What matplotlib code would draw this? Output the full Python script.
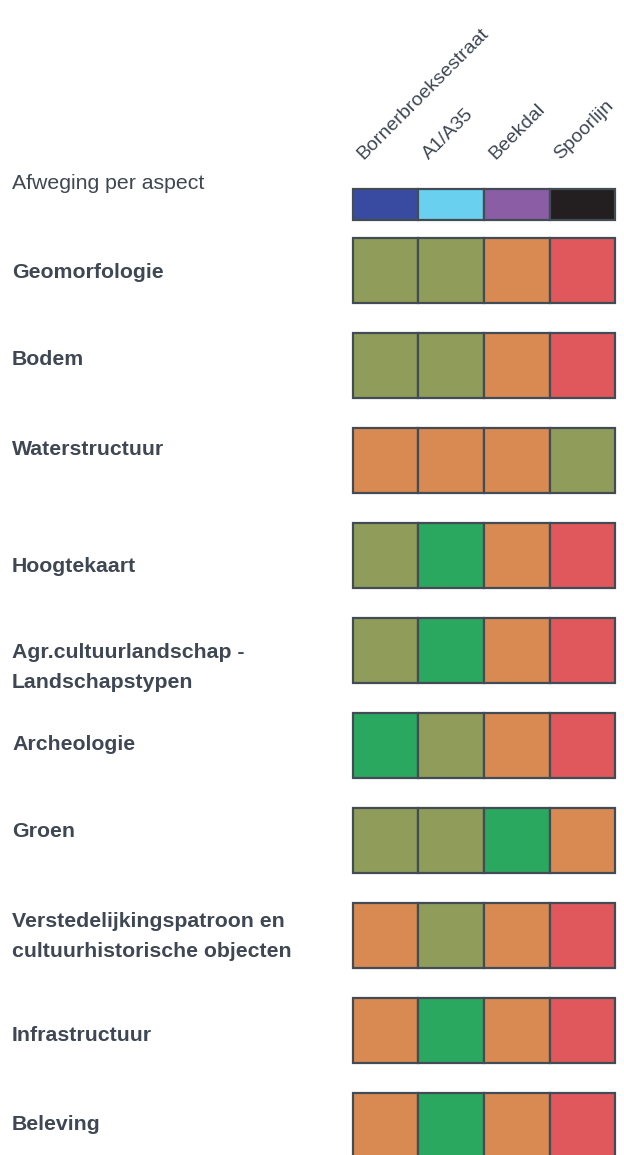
import matplotlib.pyplot as plt
import numpy as np

plt.rcParams['font.family'] = ['Liberation Sans', 'DejaVu Sans']

# kolommen (alternatieven) en hun kleur in de kopregel
alternatieven = ['Bornerbroeksestraat', 'A1/A35', 'Beekdal', 'Spoorlijn']
kop_kleuren = ['#394BA0', '#69D0EF', '#8B5DA5', '#231F20']

# aspecten (rijen)
aspecten = ['Geomorfologie', 'Bodem', 'Waterstructuur', 'Hoogtekaart',
            'Agr.cultuurlandschap -\nLandschapstypen', 'Archeologie', 'Groen',
            'Verstedelijkingspatroon en\ncultuurhistorische objecten',
            'Infrastructuur', 'Beleving']

# score per aspect: 0 = groen, 1 = olijf, 2 = oranje, 3 = rood
scores = [
    [1, 1, 2, 3],
    [1, 1, 2, 3],
    [2, 2, 2, 1],
    [1, 0, 2, 3],
    [1, 0, 2, 3],
    [0, 1, 2, 3],
    [1, 1, 0, 2],
    [2, 1, 2, 3],
    [2, 0, 2, 3],
    [2, 0, 2, 3],
]
score_kleuren = ['#2AA85F', '#8F9C5A', '#D88A52', '#E0585B']

tekst = '#3E4753'
rand = '#434B55'
fs = 15.3

fig = plt.figure(figsize=(6.24, 11.55), dpi=100)
ax = fig.add_axes([0, 0, 1, 1])
ax.set_xlim(0, 624)
ax.set_ylim(1155, 0)
ax.axis('off')

x0, w = 352.7, 65.6          # eerste kolom, breedte
xc = x0 + w / 2 + w * np.arange(len(alternatieven))

# kopregel
ax.bar(xc, 31, bottom=189, width=w, color=kop_kleuren, edgecolor=rand, linewidth=1.6)
for i, naam in enumerate(alternatieven):
    ax.text(x0 + i * w + 11, 160, naam, rotation=45, rotation_mode='anchor',
            ha='left', va='baseline', fontsize=14, color=tekst)
ax.text(12, 189, 'Afweging per aspect', fontsize=fs, color=tekst, va='baseline')

# rijen
rij_top = 238 + 95 * np.arange(len(aspecten))
baselines = [278, 365, 455, 572, 658, 750, 837, 927, 1041, 1130]
for r, (naam, s) in enumerate(zip(aspecten, scores)):
    ax.bar(xc, 65, bottom=rij_top[r], width=w,
           color=[score_kleuren[v] for v in s], edgecolor=rand, linewidth=1.6)
    for k, regel in enumerate(naam.split('\n')):
        ax.text(12, baselines[r] + 30 * k, regel, fontsize=fs, fontweight='bold',
                color=tekst, va='baseline')

fig.savefig('out.png', dpi=100)
